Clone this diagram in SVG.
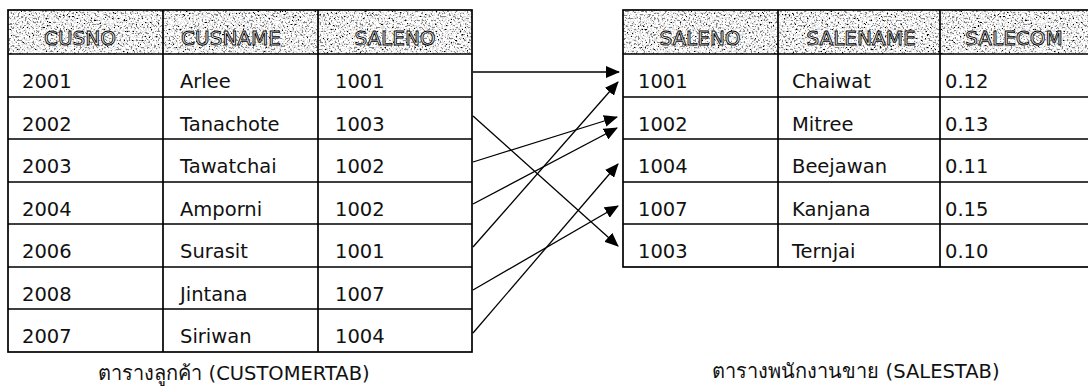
<svg xmlns="http://www.w3.org/2000/svg" width="1088" height="387" viewBox="0 0 1088 387">
<defs>
<filter id="noise" x="0" y="0" width="100%" height="100%" filterUnits="objectBoundingBox">
<feTurbulence type="fractalNoise" baseFrequency="0.55" numOctaves="2" seed="7" result="n"/>
<feColorMatrix in="n" type="matrix" values="1 0 0 0 0  1 0 0 0 0  1 0 0 0 0  0 0 0 0 1" result="g"/>
<feComponentTransfer in="g" result="d">
<feFuncR type="discrete" tableValues="0 0 0.25 0.75 1 1 1 1"/>
<feFuncG type="discrete" tableValues="0 0 0.25 0.75 1 1 1 1"/>
<feFuncB type="discrete" tableValues="0 0 0.25 0.75 1 1 1 1"/>
</feComponentTransfer>
<feComposite in="d" in2="SourceGraphic" operator="in"/>
</filter>
<marker id="ah" markerWidth="14" markerHeight="12" refX="13" refY="6" orient="auto" markerUnits="userSpaceOnUse">
<path d="M0,0 L14,6 L0,12 Z" fill="#000"/>
</marker>
</defs>
<style>
.grid{fill:none;stroke:#000;stroke-width:1.7}
.hd{fill:#888;filter:url(#noise)}
.ht{font-family:"DejaVu Sans","Noto Sans",sans-serif;font-size:20px;fill:#fff;stroke:#000;stroke-width:0.9;text-anchor:middle}
.t{font-family:"DejaVu Sans","Noto Sans",sans-serif;font-size:19.5px;fill:#111}
.cap{font-family:"DejaVu Sans","Noto Sans",sans-serif;font-size:19.5px;fill:#111;text-anchor:middle}
.th{font-size:20px}
.c{stroke:#000;stroke-width:1.3;fill:none;marker-end:url(#ah)}
</style>
<rect width="1088" height="387" fill="#fff"/>

<g id="customertab">
<rect class="hd" x="8" y="10" width="464" height="44"/>
<text class="ht" x="80" y="45">CUSNO</text>
<text class="ht" x="231" y="45">CUSNAME</text>
<text class="ht" x="395" y="45">SALENO</text>
<rect class="grid" x="8" y="10" width="464" height="342"/>
<path class="grid" d="M8,54H472M8,97H472M8,139H472M8,182H472M8,224H472M8,267H472M8,309H472M163,10V352M318,10V352"/>
<g class="t">
<text x="22" y="88">2001</text><text x="180" y="88">Arlee</text><text x="335" y="88">1001</text>
<text x="22" y="131">2002</text><text x="180" y="131">Tanachote</text><text x="335" y="131">1003</text>
<text x="22" y="173">2003</text><text x="180" y="173">Tawatchai</text><text x="335" y="173">1002</text>
<text x="22" y="216">2004</text><text x="180" y="216">Amporni</text><text x="335" y="216">1002</text>
<text x="22" y="258">2006</text><text x="180" y="258">Surasit</text><text x="335" y="258">1001</text>
<text x="22" y="301">2008</text><text x="180" y="301">Jintana</text><text x="335" y="301">1007</text>
<text x="22" y="343">2007</text><text x="180" y="343">Siriwan</text><text x="335" y="343">1004</text>
</g>
<text class="cap" x="234" y="380"><tspan class="th">ตารางลูกค้า</tspan> (CUSTOMERTAB)</text>
</g>

<g id="salestab">
<rect class="hd" x="623" y="10" width="470" height="44"/>
<text class="ht" x="700" y="45">SALENO</text>
<text class="ht" x="861" y="45">SALENAME</text>
<text class="ht" x="1014" y="45">SALECOM</text>
<rect class="grid" x="623" y="10" width="470" height="257"/>
<path class="grid" d="M623,54H1088M623,97H1088M623,139H1088M623,182H1088M623,224H1088M778,10V267M940,10V267"/>
<g class="t">
<text x="638" y="88">1001</text><text x="792" y="88">Chaiwat</text><text x="945" y="88">0.12</text>
<text x="638" y="131">1002</text><text x="792" y="131">Mitree</text><text x="945" y="131">0.13</text>
<text x="638" y="173">1004</text><text x="792" y="173">Beejawan</text><text x="945" y="173">0.11</text>
<text x="638" y="216">1007</text><text x="792" y="216">Kanjana</text><text x="945" y="216">0.15</text>
<text x="638" y="258">1003</text><text x="792" y="258">Ternjai</text><text x="945" y="258">0.10</text>
</g>
<text class="cap" x="856" y="378"><tspan class="th">ตารางพนักงานขาย</tspan> (SALESTAB)</text>
</g>

<g id="connectors">
<line class="c" x1="473" y1="72" x2="619" y2="72"/>
<line class="c" x1="473" y1="116" x2="618" y2="246"/>
<line class="c" x1="473" y1="162" x2="617" y2="117"/>
<line class="c" x1="473" y1="204" x2="617" y2="128"/>
<line class="c" x1="473" y1="247" x2="618" y2="82"/>
<line class="c" x1="473" y1="290" x2="618" y2="206"/>
<line class="c" x1="473" y1="333" x2="618" y2="164"/>
</g>
</svg>
